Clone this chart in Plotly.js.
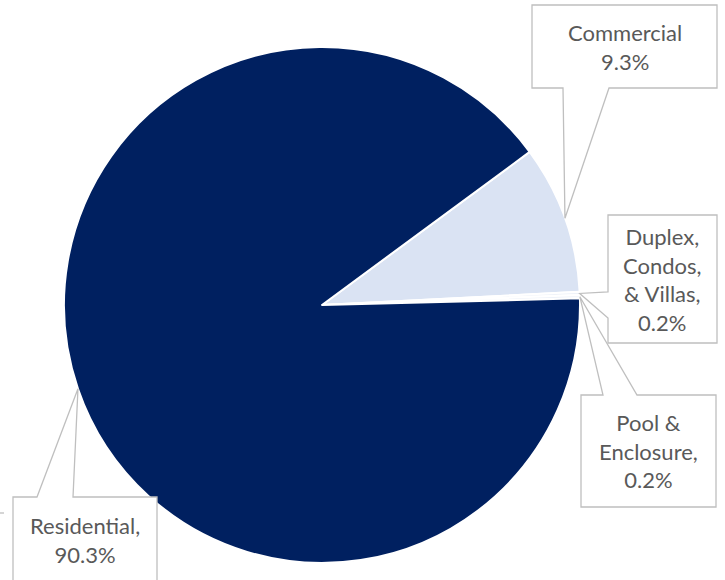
<!DOCTYPE html>
<html><head><meta charset="utf-8">
<script src="https://cdn.plot.ly/plotly-3.0.1.min.js"></script>
<style>html,body{margin:0;padding:0;background:#fff}</style>
</head><body><div id="chart" style="width:725px;height:580px"></div>
<script>
// ---- data ----
const categories = ["Commercial", "Duplex, Condos, & Villas", "Pool & Enclosure", "Residential"];
const shares = [9.3, 0.2, 0.2, 90.3];
const labelLines = [["Commercial"], ["Duplex,", "Condos,", "& Villas,"], ["Pool &", "Enclosure,"], ["Residential,"]];
const sliceColors = ["#DAE3F3", "#EEF2F9", "#EEF2F9", "#002060"];

// ---- layout geometry (pixels) ----
const W = 725, H = 580;
const CX = 322, CY = 305, R = 258;
const ROT = 53.6;
const px = x => x / W, py = y => 1 - y / H;

// callout boxes: [x0,y0,x1,y1], side of pointer, pointer base range
const callouts = [
  {box: [532, 5, 717, 88], side: "bottom", base: [563, 609]},
  {box: [608, 215, 717, 343], side: "left", base: [292, 318]},
  {box: [581, 395, 716, 507], side: "top", base: [603, 637]},
  {box: [13, 497, 157, 612], side: "top", base: [37, 73]}
];

const total = shares.reduce((a, b) => a + b, 0);
let cum = 0;
const tips = shares.map(v => {
  const ang = (ROT + 360 * (cum + v / 2) / total) * Math.PI / 180;
  cum += v;
  return [CX + R * Math.sin(ang), CY - R * Math.cos(ang)];
});

function calloutPath(c, tip) {
  const [x0, y0, x1, y1] = c.box;
  let pts;
  if (c.side === "bottom") {
    pts = [[x0, y0], [x1, y0], [x1, y1], [c.base[1], y1], tip, [c.base[0], y1], [x0, y1]];
  } else if (c.side === "left") {
    pts = [[x0, y0], [x1, y0], [x1, y1], [x0, y1], [x0, c.base[1]], tip, [x0, c.base[0]]];
  } else {
    pts = [[x0, y0], [c.base[0], y0], tip, [c.base[1], y0], [x1, y0], [x1, y1], [x0, y1]];
  }
  return "M" + pts.map(p => px(p[0]).toFixed(5) + "," + py(p[1]).toFixed(5)).join(" L") + " Z";
}

const shapes = callouts.map((c, i) => ({
  type: "path", xref: "paper", yref: "paper",
  path: calloutPath(c, tips[i]),
  fillcolor: "#FFFFFF", line: {color: "#BFBFBF", width: 1.3}, layer: "above"
}));
shapes.push({type: "line", xref: "paper", yref: "paper", x0: px(0), x1: px(4), y0: py(513), y1: py(513),
  line: {color: "#BFBFBF", width: 1.3}});

const annotations = callouts.map((c, i) => ({
  xref: "paper", yref: "paper",
  x: px((c.box[0] + c.box[2]) / 2),
  y: py(i === 3 ? 540 : (c.box[1] + c.box[3]) / 2),
  xanchor: "center", yanchor: "middle", showarrow: false,
  text: labelLines[i].concat([shares[i].toFixed(1) + "%"]).join("<br>"),
  font: {family: "Lato, 'Open Sans', sans-serif", size: 22, color: "#595959"}
}));

const trace = {
  type: "pie",
  labels: categories,
  values: shares,
  sort: false,
  direction: "clockwise",
  rotation: ROT,
  textinfo: "none",
  hoverinfo: "label+percent",
  marker: {colors: sliceColors, line: {color: "#FFFFFF", width: 2}},
  domain: {x: [px(CX - R), px(CX + R)], y: [py(CY + R), py(CY - R)]},
  showlegend: false
};

Plotly.newPlot("chart", [trace], {
  width: W, height: H,
  margin: {l: 0, r: 0, t: 0, b: 0},
  paper_bgcolor: "#FFFFFF",
  showlegend: false,
  shapes: shapes,
  annotations: annotations
}, {displayModeBar: false, staticPlot: true});
</script>
</body></html>
